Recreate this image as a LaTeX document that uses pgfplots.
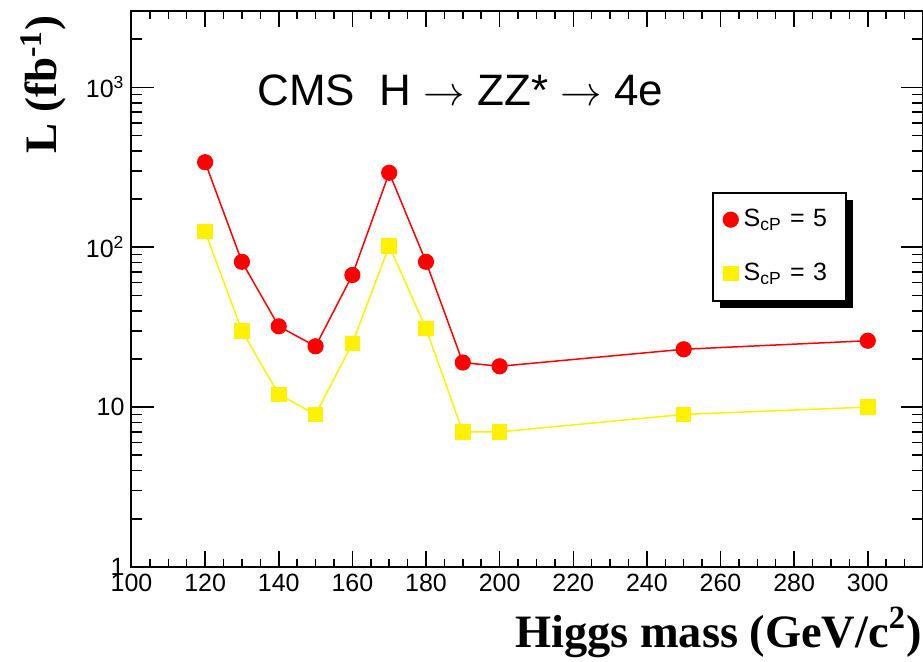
\documentclass[border=0pt]{standalone}
\usepackage{pgfplots}
\pgfplotsset{compat=1.18}
\usepackage{pgfplotstable}
\usepackage{fontspec}
\setmainfont{Liberation Sans}
\newfontfamily\timesfont{Liberation Serif}
\usetikzlibrary{shadows}

% Integrated luminosity needed for a given significance, H -> ZZ* -> 4e
\pgfplotstableread{
mass  s5   s3
120   340  125
130   81   30
140   32   12
150   24   9
160   67   25
170   292  102
180   81   31
190   19   7
200   18   7
250   23   9
300   26   10
}\lumi

\begin{document}
\begin{tikzpicture}
\path[use as bounding box] (-65.75pt,-47pt) rectangle (395.75pt,283.5pt);
\begin{axis}[
  at={(0,0)}, anchor=south west,
  scale only axis, width=395.75pt, height=278pt,
  xmin=100, xmax=315,
  ymode=log, ymin=1, ymax=3000,
  xtick={100,120,...,300},
  minor xtick={100,105,...,315},
  ytick={1,10,100,1000},
  yticklabels={1,10,10\textsuperscript{2},10\textsuperscript{3}},
  minor ytick={2,3,4,5,6,7,8,9,20,30,40,50,60,70,80,90,200,300,400,500,600,700,800,900,2000,3000},
  /pgf/number format/assume math mode=true,
  tick label style={font=\fontsize{12.5}{12.5}\selectfont},
  axis line style={line width=1pt},
  every tick/.style={black, line width=0.75pt},
  major tick length=11pt, minor tick length=5.3pt,
  xtick style={/pgfplots/major tick length=8pt, /pgfplots/minor tick length=4pt},
  tick pos=both, tick align=inside,
  xlabel={\timesfont\bfseries Higgs mass (GeV/c\textsuperscript{2})},
  xlabel style={at={([xshift=-0.5pt,yshift=-40pt]rel axis cs:1,0)}, anchor=base east, inner sep=0pt,
    font=\fontsize{23.2}{23.2}\selectfont},
  ylabel={\timesfont\bfseries L (fb\textsuperscript{-1})},
  ylabel style={at={([xshift=-37.25pt,yshift=-2pt]rel axis cs:0,1)}, anchor=base east,
    inner sep=0pt, font=\fontsize{22.5}{22.5}\selectfont},
  legend image code/.code={\draw[#1, only marks] plot coordinates {(0pt,0pt)};},
  legend cell align=left,
  legend style={at={(rel axis cs:0.734,0.675)}, anchor=north west,
    draw=black, line width=1pt, fill=white,
    inner xsep=5pt, inner ysep=0pt, row sep=0pt, column sep=2.8pt,
    font=\fontsize{12.5}{12.5}\selectfont,
    drop shadow={shadow xshift=3.5pt, shadow yshift=-3.5pt, opacity=1, fill=black},
    nodes={inner sep=0pt, minimum height=27pt, text width=46pt}},
]
\addplot[red, line width=0.75pt, mark=*, mark size=3.67pt,
  mark options={solid, fill=red, draw=red}] table[x=mass, y=s5] {\lumi};
\addlegendentry{S\textsubscript{cP} = 5}
\addplot[yellow, line width=0.75pt, mark=square*, mark size=3.5pt,
  mark options={solid, fill=yellow, draw=yellow}] table[x=mass, y=s3] {\lumi};
\addlegendentry{S\textsubscript{cP} = 3}
\node[anchor=base west, inner sep=0pt, font=\fontsize{22}{22}\selectfont]
  at (axis cs:134.1,775) {CMS\ \ H $\rightarrow$ ZZ* $\rightarrow$ 4e};
\end{axis}
\end{tikzpicture}
\end{document}
